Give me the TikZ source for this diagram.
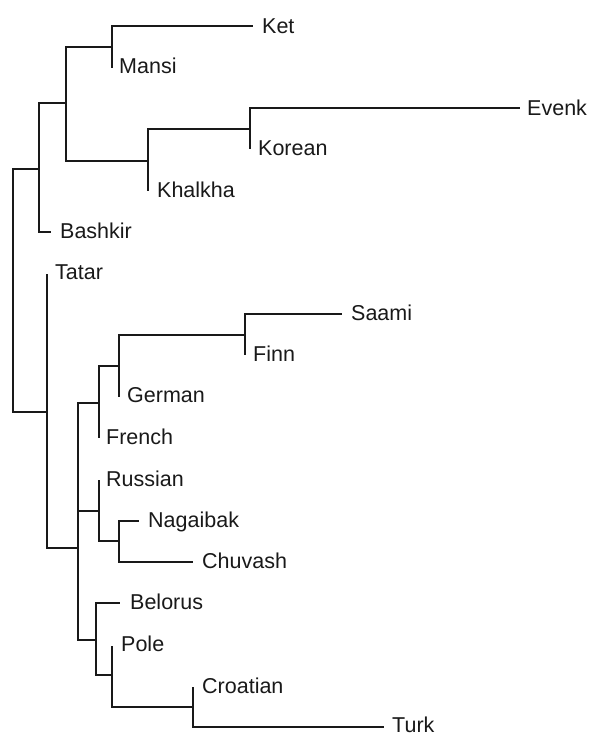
\documentclass[tikz,border=0pt]{standalone}
\usepackage{fontspec}
\setmainfont{Liberation Sans}
\begin{document}
\begin{tikzpicture}[x=1pt,y=-1pt,
  branch/.style={line width=1.4pt, black!90, line cap=rect},
  lab/.style={anchor=base west, inner sep=0pt, font=\fontsize{21.5}{24}\selectfont, text=black!90}]
\useasboundingbox (0,0) rectangle (591,736);
% internal nodes
\coordinate (R) at (13,290);
\coordinate (A) at (39,169);
\coordinate (C) at (66,103);
\coordinate (D) at (112,47);
\coordinate (E) at (148,161);
\coordinate (F) at (250,129);
\coordinate (B) at (47,412);
\coordinate (G) at (78,548);
\coordinate (H) at (99,403);
\coordinate (K) at (119,366);
\coordinate (L) at (245,335);
\coordinate (I) at (99,511);
\coordinate (M) at (119,541);
\coordinate (J) at (96,640);
\coordinate (N) at (112,675);
\coordinate (O) at (193,707);
% tips
\coordinate (tket) at (252,26);
\coordinate (tmansi) at (112,67);
\coordinate (tevenk) at (519,108);
\coordinate (tkorean) at (250,148);
\coordinate (tkhalkha) at (148,190);
\coordinate (tbashkir) at (50,232);
\coordinate (ttatar) at (47,275);
\coordinate (tsaami) at (341,314);
\coordinate (tfinn) at (245,354);
\coordinate (tgerman) at (119,396);
\coordinate (tfrench) at (99,437);
\coordinate (trussian) at (99,481);
\coordinate (tnagaibak) at (138,521);
\coordinate (tchuvash) at (192,562);
\coordinate (tbelorus) at (119,603);
\coordinate (tpole) at (112,647);
\coordinate (tcroatian) at (193,688);
\coordinate (tturk) at (383,727);
% labels
\node[lab] (ket) at (262,33.5) {Ket};
\node[lab] (mansi) at (119,73.5) {Mansi};
\node[lab] (evenk) at (527,115) {Evenk};
\node[lab] (korean) at (258,155.5) {Korean};
\node[lab] (khalkha) at (157,197) {Khalkha};
\node[lab] (bashkir) at (60,238) {Bashkir};
\node[lab] (tatar) at (55,279) {Tatar};
\node[lab] (saami) at (351,320.5) {Saami};
\node[lab] (finn) at (253,361.5) {Finn};
\node[lab] (german) at (127,402.5) {German};
\node[lab] (french) at (106,444) {French};
\node[lab] (russian) at (106,486.5) {Russian};
\node[lab] (nagaibak) at (148,527.5) {Nagaibak};
\node[lab] (chuvash) at (202,568) {Chuvash};
\node[lab] (belorus) at (130,609.5) {Belorus};
\node[lab] (pole) at (121,651.5) {Pole};
\node[lab] (croatian) at (202,693) {Croatian};
\node[lab] (turk) at (392,732.5) {Turk};
% branches
\draw[branch] (R) |- (A);
\draw[branch] (R) |- (B);
\draw[branch] (A) |- (C);
\draw[branch] (A) |- (tbashkir);
\draw[branch] (C) |- (D);
\draw[branch] (C) |- (E);
\draw[branch] (D) |- (tket);
\draw[branch] (D) |- (tmansi);
\draw[branch] (E) |- (F);
\draw[branch] (E) |- (tkhalkha);
\draw[branch] (F) |- (tevenk);
\draw[branch] (F) |- (tkorean);
\draw[branch] (B) |- (ttatar);
\draw[branch] (B) |- (G);
\draw[branch] (G) |- (H);
\draw[branch] (G) |- (I);
\draw[branch] (G) |- (J);
\draw[branch] (H) |- (K);
\draw[branch] (H) |- (tfrench);
\draw[branch] (K) |- (L);
\draw[branch] (K) |- (tgerman);
\draw[branch] (L) |- (tsaami);
\draw[branch] (L) |- (tfinn);
\draw[branch] (I) |- (trussian);
\draw[branch] (I) |- (M);
\draw[branch] (M) |- (tnagaibak);
\draw[branch] (M) |- (tchuvash);
\draw[branch] (J) |- (tbelorus);
\draw[branch] (J) |- (N);
\draw[branch] (N) |- (tpole);
\draw[branch] (N) |- (O);
\draw[branch] (O) |- (tcroatian);
\draw[branch] (O) |- (tturk);
\end{tikzpicture}
\end{document}
